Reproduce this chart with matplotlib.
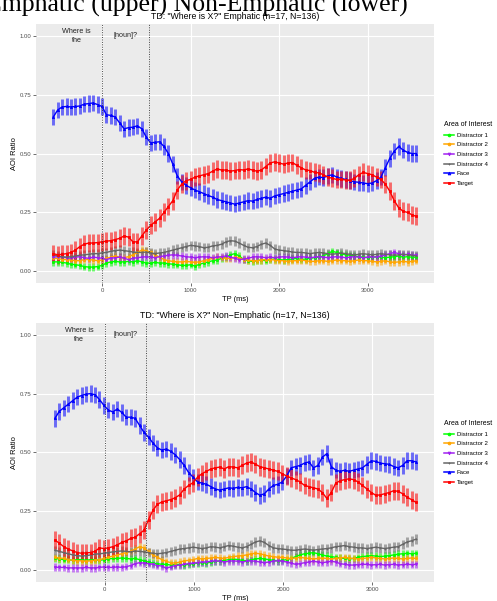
import numpy as np
import matplotlib
matplotlib.use("Agg")
import matplotlib.pyplot as plt
from matplotlib.colors import to_rgba
from matplotlib.lines import Line2D

plt.rcParams['font.family'] = ['Liberation Sans', 'DejaVu Sans']

# time bins (ms)
t_emph = np.arange(-550, 3551, 50)
t_non = np.arange(-560, 3491, 50)

aoi_names = ["Distractor 1", "Distractor 2", "Distractor 3", "Distractor 4", "Face", "Target"]
aoi_colors = ["#00FF00", "#FFA500", "#A020F0", "#666666", "#0000FF", "#FF0000"]
aoi_markers = ["o", "o", "v", "+", "^", "s"]
aoi_se = [0.016, 0.016, 0.016, 0.02, 0.035, 0.038]

# --- Emphatic (upper)
emph_d1 = [0.040, 0.040, 0.038, 0.035, 0.030, 0.028, 0.025, 0.020, 0.018, 0.018,
           0.020, 0.025, 0.035, 0.040, 0.042, 0.040, 0.040, 0.042, 0.040, 0.045,
           0.040, 0.035, 0.035, 0.038, 0.035, 0.035, 0.032, 0.030, 0.028, 0.025,
           0.025, 0.028, 0.022, 0.030, 0.035, 0.040, 0.045, 0.048, 0.055, 0.060,
           0.070, 0.075, 0.065, 0.050, 0.045, 0.042, 0.045, 0.048, 0.045, 0.050,
           0.052, 0.050, 0.048, 0.050, 0.052, 0.055, 0.050, 0.052, 0.055, 0.058,
           0.060, 0.065, 0.075, 0.085, 0.080, 0.075, 0.070, 0.068, 0.065, 0.062,
           0.060, 0.058, 0.060, 0.062, 0.060, 0.058, 0.060, 0.062, 0.065, 0.060,
           0.062, 0.060, 0.060]
emph_d2 = [0.055, 0.055, 0.050, 0.050, 0.048, 0.045, 0.045, 0.050, 0.050, 0.048,
           0.045, 0.048, 0.055, 0.060, 0.065, 0.060, 0.058, 0.062, 0.070, 0.080,
           0.090, 0.088, 0.080, 0.070, 0.060, 0.050, 0.045, 0.042, 0.040, 0.040,
           0.042, 0.040, 0.038, 0.040, 0.045, 0.050, 0.055, 0.060, 0.058, 0.055,
           0.055, 0.060, 0.058, 0.050, 0.048, 0.045, 0.045, 0.048, 0.050, 0.050,
           0.048, 0.045, 0.045, 0.042, 0.045, 0.045, 0.048, 0.045, 0.042, 0.042,
           0.045, 0.045, 0.042, 0.045, 0.048, 0.045, 0.045, 0.042, 0.045, 0.048,
           0.045, 0.045, 0.042, 0.040, 0.042, 0.045, 0.040, 0.038, 0.040, 0.042,
           0.040, 0.042, 0.045]
emph_d3 = [0.060, 0.062, 0.060, 0.058, 0.055, 0.060, 0.062, 0.058, 0.055, 0.060,
           0.058, 0.055, 0.050, 0.055, 0.058, 0.060, 0.055, 0.050, 0.055, 0.058,
           0.060, 0.062, 0.060, 0.058, 0.062, 0.065, 0.068, 0.070, 0.068, 0.065,
           0.062, 0.060, 0.058, 0.060, 0.062, 0.060, 0.058, 0.060, 0.062, 0.065,
           0.060, 0.055, 0.050, 0.052, 0.055, 0.060, 0.062, 0.060, 0.058, 0.060,
           0.058, 0.060, 0.062, 0.060, 0.058, 0.060, 0.062, 0.060, 0.058, 0.060,
           0.062, 0.060, 0.058, 0.060, 0.062, 0.060, 0.058, 0.060, 0.062, 0.060,
           0.058, 0.060, 0.062, 0.060, 0.065, 0.070, 0.075, 0.080, 0.075, 0.070,
           0.072, 0.070, 0.068]
emph_d4 = [0.070, 0.065, 0.062, 0.060, 0.062, 0.065, 0.068, 0.070, 0.072, 0.075,
           0.075, 0.078, 0.080, 0.085, 0.088, 0.090, 0.088, 0.085, 0.082, 0.080,
           0.080, 0.082, 0.078, 0.075, 0.078, 0.080, 0.085, 0.090, 0.095, 0.100,
           0.105, 0.110, 0.108, 0.105, 0.100, 0.102, 0.108, 0.110, 0.115, 0.125,
           0.130, 0.128, 0.120, 0.110, 0.102, 0.100, 0.105, 0.115, 0.120, 0.110,
           0.095, 0.090, 0.088, 0.085, 0.082, 0.080, 0.080, 0.078, 0.075, 0.078,
           0.080, 0.078, 0.075, 0.072, 0.075, 0.078, 0.075, 0.072, 0.070, 0.072,
           0.075, 0.072, 0.070, 0.072, 0.075, 0.072, 0.070, 0.068, 0.070, 0.072,
           0.070, 0.068, 0.065]
emph_face = [0.655, 0.685, 0.698, 0.700, 0.698, 0.700, 0.702, 0.710, 0.712, 0.715,
             0.708, 0.700, 0.665, 0.662, 0.655, 0.630, 0.605, 0.610, 0.612, 0.618,
             0.605, 0.570, 0.545, 0.548, 0.550, 0.530, 0.500, 0.455, 0.405, 0.380,
             0.365, 0.355, 0.345, 0.338, 0.330, 0.322, 0.315, 0.305, 0.300, 0.295,
             0.290, 0.285, 0.290, 0.295, 0.300, 0.298, 0.305, 0.310, 0.315, 0.310,
             0.320, 0.325, 0.330, 0.335, 0.340, 0.345, 0.350, 0.365, 0.380, 0.395,
             0.400, 0.398, 0.405, 0.410, 0.400, 0.395, 0.390, 0.385, 0.380, 0.378,
             0.375, 0.372, 0.375, 0.385, 0.400, 0.440, 0.480, 0.510, 0.530, 0.515,
             0.505, 0.500, 0.500]
emph_target = [0.075, 0.070, 0.072, 0.075, 0.080, 0.090, 0.105, 0.115, 0.120, 0.120,
               0.122, 0.125, 0.128, 0.130, 0.135, 0.140, 0.150, 0.145, 0.125, 0.125,
               0.150, 0.175, 0.195, 0.210, 0.225, 0.250, 0.275, 0.300, 0.345, 0.370,
               0.385, 0.390, 0.400, 0.405, 0.410, 0.415, 0.425, 0.435, 0.430, 0.430,
               0.425, 0.428, 0.432, 0.430, 0.435, 0.430, 0.425, 0.430, 0.445, 0.460,
               0.465, 0.460, 0.455, 0.460, 0.462, 0.450, 0.440, 0.430, 0.428, 0.420,
               0.418, 0.410, 0.400, 0.395, 0.390, 0.390, 0.388, 0.386, 0.395, 0.410,
               0.420, 0.415, 0.410, 0.400, 0.390, 0.370, 0.340, 0.300, 0.270, 0.255,
               0.250, 0.240, 0.233]

# --- Non-Emphatic (lower)
non_d1 = [0.050, 0.048, 0.045, 0.045, 0.042, 0.045, 0.045, 0.042, 0.045, 0.045,
          0.042, 0.045, 0.048, 0.050, 0.050, 0.052, 0.050, 0.048, 0.050, 0.045,
          0.040, 0.035, 0.030, 0.028, 0.025, 0.025, 0.022, 0.024, 0.025, 0.022,
          0.025, 0.028, 0.030, 0.032, 0.030, 0.035, 0.038, 0.040, 0.042, 0.045,
          0.048, 0.045, 0.042, 0.040, 0.045, 0.048, 0.050, 0.048, 0.045, 0.042,
          0.040, 0.042, 0.045, 0.050, 0.058, 0.065, 0.070, 0.072, 0.075, 0.070,
          0.065, 0.060, 0.058, 0.055, 0.052, 0.050, 0.048, 0.050, 0.055, 0.058,
          0.060, 0.062, 0.060, 0.058, 0.060, 0.062, 0.065, 0.068, 0.070, 0.072,
          0.070, 0.072]
non_d2 = [0.055, 0.052, 0.050, 0.045, 0.042, 0.040, 0.040, 0.038, 0.040, 0.042,
          0.045, 0.050, 0.055, 0.060, 0.065, 0.070, 0.075, 0.080, 0.090, 0.100,
          0.095, 0.080, 0.065, 0.055, 0.045, 0.038, 0.032, 0.030, 0.035, 0.040,
          0.042, 0.045, 0.050, 0.048, 0.050, 0.052, 0.055, 0.052, 0.050, 0.055,
          0.058, 0.060, 0.062, 0.065, 0.070, 0.072, 0.070, 0.065, 0.060, 0.058,
          0.055, 0.055, 0.052, 0.050, 0.052, 0.055, 0.052, 0.050, 0.048, 0.050,
          0.052, 0.050, 0.048, 0.050, 0.052, 0.055, 0.052, 0.050, 0.048, 0.050,
          0.052, 0.055, 0.052, 0.050, 0.048, 0.050, 0.052, 0.050, 0.048, 0.050,
          0.052, 0.050]
non_d3 = [0.013, 0.012, 0.012, 0.010, 0.010, 0.010, 0.010, 0.012, 0.010, 0.010,
          0.012, 0.014, 0.012, 0.012, 0.014, 0.012, 0.015, 0.020, 0.028, 0.032,
          0.030, 0.028, 0.025, 0.020, 0.018, 0.008, 0.015, 0.020, 0.022, 0.025,
          0.028, 0.030, 0.032, 0.035, 0.035, 0.038, 0.040, 0.038, 0.035, 0.038,
          0.040, 0.038, 0.035, 0.038, 0.040, 0.038, 0.035, 0.032, 0.035, 0.038,
          0.040, 0.038, 0.035, 0.030, 0.025, 0.028, 0.032, 0.035, 0.038, 0.035,
          0.032, 0.035, 0.038, 0.035, 0.028, 0.025, 0.022, 0.022, 0.024, 0.025,
          0.025, 0.022, 0.024, 0.025, 0.022, 0.024, 0.025, 0.022, 0.024, 0.025,
          0.024, 0.025]
non_d4 = [0.085, 0.080, 0.075, 0.070, 0.065, 0.062, 0.060, 0.062, 0.065, 0.068,
          0.070, 0.072, 0.075, 0.078, 0.080, 0.082, 0.080, 0.078, 0.082, 0.080,
          0.078, 0.075, 0.072, 0.070, 0.072, 0.075, 0.080, 0.085, 0.090, 0.092,
          0.095, 0.098, 0.095, 0.092, 0.095, 0.100, 0.098, 0.095, 0.100, 0.105,
          0.102, 0.098, 0.095, 0.100, 0.110, 0.120, 0.125, 0.118, 0.105, 0.095,
          0.092, 0.090, 0.088, 0.085, 0.085, 0.088, 0.090, 0.088, 0.085, 0.088,
          0.090, 0.092, 0.095, 0.100, 0.102, 0.105, 0.100, 0.098, 0.095, 0.095,
          0.092, 0.095, 0.098, 0.095, 0.092, 0.095, 0.098, 0.100, 0.110, 0.120,
          0.125, 0.132]
non_face = [0.645, 0.675, 0.690, 0.705, 0.720, 0.735, 0.742, 0.748, 0.750, 0.745,
            0.725, 0.700, 0.680, 0.672, 0.685, 0.670, 0.650, 0.650, 0.645, 0.615,
            0.585, 0.565, 0.540, 0.520, 0.510, 0.515, 0.505, 0.490, 0.470, 0.445,
            0.415, 0.395, 0.375, 0.370, 0.365, 0.355, 0.345, 0.340, 0.345, 0.350,
            0.348, 0.352, 0.350, 0.355, 0.345, 0.330, 0.318, 0.325, 0.345, 0.360,
            0.365, 0.375, 0.400, 0.435, 0.440, 0.445, 0.455, 0.460, 0.435, 0.445,
            0.480, 0.495, 0.440, 0.425, 0.420, 0.425, 0.420, 0.425, 0.430, 0.435,
            0.450, 0.465, 0.462, 0.455, 0.452, 0.450, 0.440, 0.435, 0.445, 0.465,
            0.465, 0.460]
non_target = [0.128, 0.115, 0.100, 0.090, 0.082, 0.075, 0.072, 0.074, 0.075, 0.080,
              0.095, 0.092, 0.095, 0.100, 0.108, 0.118, 0.125, 0.135, 0.140, 0.155,
              0.170, 0.215, 0.255, 0.280, 0.290, 0.295, 0.300, 0.308, 0.320, 0.345,
              0.360, 0.372, 0.395, 0.410, 0.420, 0.430, 0.435, 0.438, 0.430, 0.440,
              0.438, 0.435, 0.445, 0.455, 0.460, 0.450, 0.440, 0.435, 0.430, 0.425,
              0.420, 0.410, 0.400, 0.392, 0.385, 0.375, 0.360, 0.355, 0.350, 0.345,
              0.330, 0.305, 0.330, 0.370, 0.380, 0.385, 0.388, 0.385, 0.375, 0.360,
              0.345, 0.330, 0.318, 0.320, 0.325, 0.330, 0.338, 0.335, 0.325, 0.310,
              0.300, 0.288]

panels = [
    dict(title='TD: "Where is X?" Emphatic (n=17, N=136)', t=t_emph,
         series=[emph_d1, emph_d2, emph_d3, emph_d4, emph_face, emph_target],
         noun_onset=535, xlim=(-745, 3750), rect=[0.0724, 0.529, 0.801, 0.431]),
    dict(title='TD: "Where is X?" Non\u2212Emphatic (n=17, N=136)', t=t_non,
         series=[non_d1, non_d2, non_d3, non_d4, non_face, non_target],
         noun_onset=460, xlim=(-772, 3693), rect=[0.0724, 0.0316, 0.801, 0.431]),
]

fig = plt.figure(figsize=(4.97, 6.01), dpi=100)
fig.text(408 / 497, 1 - 12 / 601, "Emphatic (upper) Non-Emphatic (lower)",
         family="Liberation Serif", fontsize=18.5, ha="right", va="baseline")

for p in panels:
    ax = fig.add_axes(p["rect"])
    ax.set_facecolor("#EBEBEB")
    for s in ax.spines.values():
        s.set_visible(False)
    ax.grid(True, color="white", lw=0.8)
    ax.set_axisbelow(True)

    for name, col, mk, se, vals in zip(aoi_names, aoi_colors, aoi_markers, aoi_se, p["series"]):
        ax.errorbar(p["t"], vals, yerr=se, color=col, ecolor=to_rgba(col, 0.55),
                    elinewidth=2.1, capsize=0, lw=1.0, marker=mk, markersize=1.6,
                    markeredgewidth=0.6, zorder=3)

    ax.axvline(0, color="#444444", ls=(0, (1, 1.5)), lw=0.7, zorder=4)
    ax.axvline(p["noun_onset"], color="#444444", ls=(0, (1, 1.5)), lw=0.7, zorder=4)
    ax.text(-285, 1.0, "Where is\nthe", ha="center", va="center", fontsize=5.2,
            color="#222222", linespacing=1.5)
    ax.text(p["noun_onset"] / 2, 1.0, "[noun]?", ha="center", va="center",
            fontsize=5.2, color="#222222")

    ax.set_xlim(*p["xlim"])
    ax.set_ylim(-0.05, 1.05)
    ax.set_xticks([0, 1000, 2000, 3000])
    ax.set_yticks([0, 0.25, 0.5, 0.75, 1.0])
    ax.set_yticklabels(["0.00", "0.25", "0.50", "0.75", "1.00"])
    ax.tick_params(labelsize=4.3, labelcolor="#4D4D4D", color="#333333",
                   length=2, width=0.5, pad=1.5)
    ax.set_title(p["title"], fontsize=6.3, pad=3.5)
    ax.set_xlabel("TP (ms)", fontsize=5.4, labelpad=2)
    ax.set_ylabel("AOI Ratio", fontsize=5.4, labelpad=1)

    handles = [Line2D([], [], color=c, marker=m, markersize=2, lw=1.1, markeredgewidth=0.6)
               for c, m in zip(aoi_colors, aoi_markers)]
    leg = ax.legend(handles, aoi_names, title="Area of Interest", loc="center left",
                    bbox_to_anchor=(1.02, 0.5), frameon=False, fontsize=4.3,
                    title_fontsize=5, handlelength=1.6, labelspacing=0.75,
                    handletextpad=0.5, borderaxespad=0.0)
    leg._legend_box.align = "left"

fig.savefig("out.png", dpi=100)
